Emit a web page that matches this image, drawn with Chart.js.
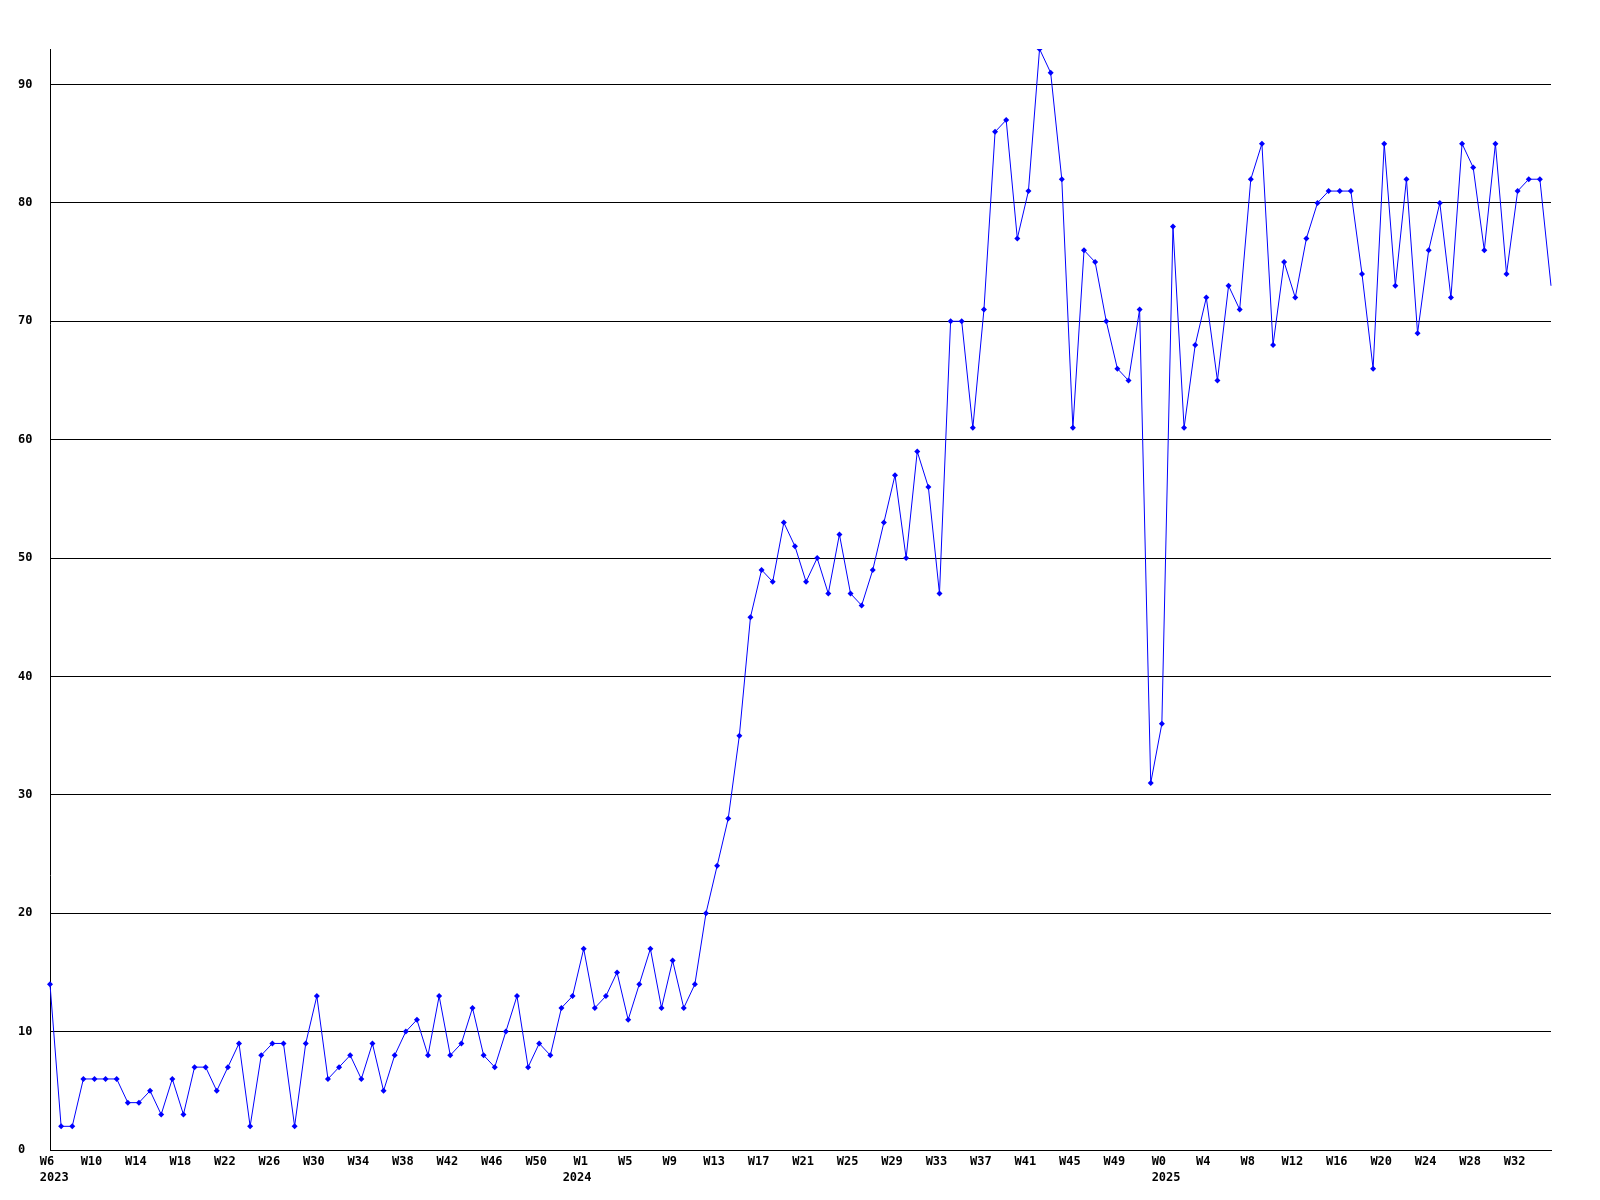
<!DOCTYPE html>
<html>
<head>
<meta charset="utf-8">
<script src="https://cdn.jsdelivr.net/npm/chart.js@4/dist/chart.umd.min.js"></script>
<style>
  html, body { margin: 0; padding: 0; background: #fff; }
  #wrap { width: 1600px; height: 1200px; }
</style>
</head>
<body>
<div id="wrap"><canvas id="weeklyChart" width="1600" height="1200"></canvas></div>
<script>
// Week ranges per year: [year, first week, last week]
const yearRanges = [
  ["2023", 6, 53],
  ["2024", 1, 52],
  ["2025", 0, 35],
];

// Weekly counts, one per week
const counts2023 = [
  14, 2, 2, 6, 6, 6, 6, 4, 4, 5, 3, 6, 3, 7, 7, 5, 7, 9, 2, 8, 9, 9, 2, 9,
  13, 6, 7, 8, 6, 9, 5, 8, 10, 11, 8, 13, 8, 9, 12, 8, 7, 10, 13, 7, 9, 8, 12, 13,
];
const counts2024 = [
  17, 12, 13, 15, 11, 14, 17, 12, 16, 12, 14, 20, 24, 28, 35, 45, 49, 48, 53, 51,
  48, 50, 47, 52, 47, 46, 49, 53, 57, 50, 59, 56, 47, 70, 70, 61, 71, 86, 87, 77,
  81, 93, 91, 82, 61, 76, 75, 70, 66, 65, 71, 31,
];
const counts2025 = [
  36, 78, 61, 68, 72, 65, 73, 71, 82, 85, 68, 75, 72, 77, 80, 81, 81, 81, 74, 66,
  85, 73, 82, 69, 76, 80, 72, 85, 83, 76, 85, 74, 81, 82, 82, 73,
];

const yTicks = [0, 10, 20, 30, 40, 50, 60, 70, 80, 90];
const yMax = 93;
const labelEvery = 4;

// category labels: "W<n>"; remember where each year starts
const weeks = [];
const yearStart = {};
yearRanges.forEach(([year, from, to]) => {
  yearStart[weeks.length] = year;
  for (let w = from; w <= to; w++) weeks.push("W" + w);
});
const counts = counts2023.concat(counts2024, counts2025);

const font = { family: "'DejaVu Sans Mono', monospace", size: 12, weight: "bold", lineHeight: 1.35 };

// the year line sits a little off-centre under its week (monospace, padded with spaces)
function yearLine(year) {
  return year === "2024" ? year + " " : "  " + year;
}

const ctx = document.getElementById("weeklyChart").getContext("2d");
new Chart(ctx, {
  type: "line",
  data: {
    labels: weeks,
    datasets: [
      {
        data: counts,
        borderColor: "#0000ff",
        backgroundColor: "#0000ff",
        borderWidth: 1,
        tension: 0,
        pointStyle: "rectRot",
        pointRadius: (c) => (c.dataIndex === counts.length - 1 ? 0 : 3),
        pointBorderWidth: 0,
        pointBackgroundColor: "#0000ff",
      },
    ],
  },
  options: {
    responsive: false,
    animation: false,
    events: [],
    layout: { padding: { left: 18, top: 49, right: 49, bottom: 0 } },
    plugins: {
      legend: { display: false },
      tooltip: { enabled: false },
    },
    scales: {
      x: {
        offset: false,
        grid: { display: false, drawTicks: false },
        border: { display: true, color: "#000", width: 1 },
        afterFit: (scale) => { scale.height = 50; },
        ticks: {
          autoSkip: false,
          maxRotation: 0,
          padding: 4,
          labelOffset: -3,
          color: "#000",
          font: font,
          callback: function (value, index) {
            if (index % labelEvery !== 0) return "";
            const label = weeks[index];
            const year = yearStart[index];
            return year ? [label, yearLine(year)] : label;
          },
        },
      },
      y: {
        min: 0,
        max: yMax,
        afterBuildTicks: (scale) => {
          scale.ticks = yTicks.map((v) => ({ value: v }));
        },
        afterFit: (scale) => { scale.width = 32; },
        grid: { color: "#000", lineWidth: 1, drawTicks: false },
        border: { display: true, color: "#000", width: 1 },
        ticks: {
          crossAlign: "far",
          padding: 0,
          color: "#000",
          font: font,
        },
      },
    },
  },
});
</script>
</body>
</html>
